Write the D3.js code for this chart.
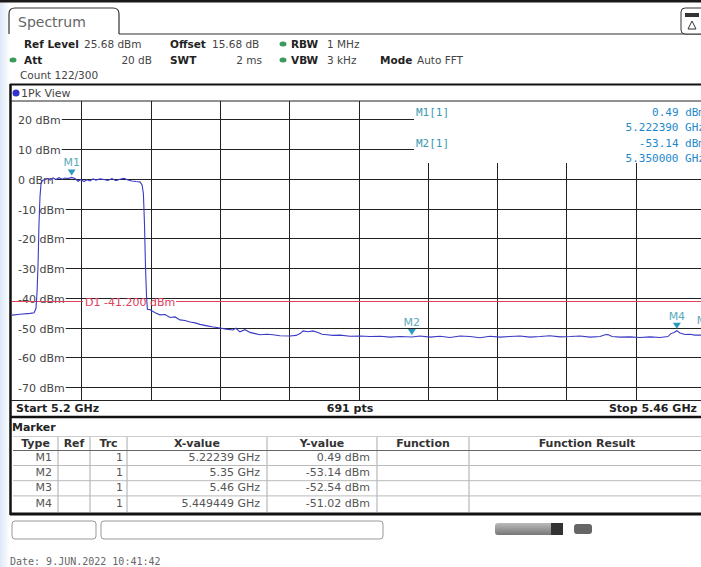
<!DOCTYPE html>
<html><head><meta charset="utf-8">
<script src="https://cdn.jsdelivr.net/npm/d3@7"></script>
<style>
html,body{margin:0;padding:0;background:#fff;}
svg{display:block;font-family:"DejaVu Sans",Verdana,sans-serif;}
</style></head>
<body>
<script>
// ---- data ----
const startGHz = 5.2, stopGHz = 5.46;
const refLevel = 25.68, bottomLevel = -74.32;
const yTicks = [20, 10, 0, -10, -20, -30, -40, -50, -60, -70];
const yTickLabels = ["20 dBm","10 dBm","0 dBm","-10 dBm","-20 dBm","-30 dBm","-40 dBm","-50 dBm","-60 dBm","-70 dBm"];
const xDivisions = 10;
const displayLine = -41.2;

const traceFreq = [5.2000,5.2030,5.2068,5.2083,5.2090,5.2094,5.2098,5.2101,5.2105,5.2109,5.2113,5.2124,5.2135,5.2143,5.2154,5.2165,5.2176,5.2188,5.2199,5.2210,5.22239,5.2236,5.2248,5.2259,5.2270,5.2281,5.2293,5.2304,5.2315,5.2330,5.2345,5.2360,5.2375,5.2390,5.2405,5.2420,5.2435,5.2450,5.2465,5.2480,5.2488,5.2493,5.2497,5.2501,5.2505,5.2508,5.2518,5.2537,5.2555,5.2574,5.2593,5.2612,5.2630,5.2649,5.2668,5.2687,5.2705,5.2732,5.2750,5.2780,5.2803,5.2829,5.2840,5.2855,5.2874,5.2893,5.2912,5.2930,5.2957,5.2979,5.3005,5.3043,5.3066,5.3081,5.3092,5.3111,5.3129,5.3148,5.3163,5.3182,5.3204,5.3231,5.3268,5.3306,5.3343,5.3381,5.3418,5.3456,5.3500,5.3531,5.3568,5.3606,5.3643,5.3681,5.3718,5.3756,5.3793,5.3831,5.3868,5.3906,5.3943,5.3981,5.4018,5.4056,5.4094,5.4131,5.4169,5.4206,5.4225,5.4236,5.4251,5.4281,5.4319,5.4356,5.4394,5.4431,5.4461,5.4472,5.4484,5.449449,5.4506,5.4525,5.4544,5.4562,5.4581,5.4600];
const traceLevel = [-45.8,-45.5,-45.2,-45.0,-43.5,-38,-28,-16,-6,-1.5,-0.5,-0.3,0.2,-0.4,0.3,-0.2,0.4,-0.1,0.3,0.1,0.49,0.1,-0.8,-0.2,-0.9,-0.3,-0.7,0.0,-0.4,0.0,-0.2,-0.5,0.1,-0.6,-0.1,0.2,-0.4,-0.7,-0.9,-1.0,-2.0,-5,-15,-30,-40,-43.8,-44.0,-45.0,-45.7,-45.6,-46.6,-46.4,-47.4,-47.6,-48.1,-48.4,-48.9,-49.4,-49.7,-50.1,-50.5,-50.8,-50.2,-51.4,-50.7,-51.6,-52.0,-52.4,-52.2,-52.4,-52.7,-52.8,-52.6,-52.0,-51.1,-51.4,-51.1,-51.6,-52.2,-52.4,-52.6,-52.5,-52.9,-52.8,-53.0,-52.9,-53.2,-53.0,-53.14,-52.8,-53.2,-52.9,-53.3,-52.8,-53.0,-53.4,-52.9,-53.2,-53.0,-52.8,-53.2,-53.0,-52.7,-53.1,-53.0,-52.8,-53.2,-53.0,-52.4,-52.3,-53.0,-53.2,-53.1,-53.3,-53.1,-53.3,-53.0,-52.0,-51.6,-51.02,-51.8,-52.3,-52.2,-52.5,-52.5,-52.54];

const markerNames = ["M1","M2","M3","M4"];
const markerFreq = [5.22239, 5.35, 5.46, 5.449449];
const markerLevel = [0.49, -53.14, -52.54, -51.02];
const markerXText = ["5.22239 GHz","5.35 GHz","5.46 GHz","5.449449 GHz"];
const markerYText = ["0.49 dBm","-53.14 dBm","-52.54 dBm","-51.02 dBm"];
const infoMarkers = ["M1[1]","M2[1]"];
const infoLevel = ["0.49 dBm","-53.14 dBm"];
const infoFreq = ["5.222390 GHz","5.350000 GHz"];

const W = 701, H = 567;
const svg = d3.select("body").append("svg").attr("width", W).attr("height", H);

// left bluish tint
const defs = svg.append("defs");
const lg = defs.append("linearGradient").attr("id","lt").attr("x1",0).attr("x2",1);
lg.append("stop").attr("offset",0).attr("stop-color","#dde8f6");
lg.append("stop").attr("offset",1).attr("stop-color","#ffffff");
svg.append("rect").attr("x",0).attr("y",0).attr("width",10).attr("height",H).attr("fill","url(#lt)");
svg.append("rect").attr("x",0).attr("y",0).attr("width",W).attr("height",2.5).attr("fill","#1a1a1a");

// Tab
svg.append("path").attr("d","M9,34 L9,14 Q9,8 15,8 L113,8 Q119,8 119,14 L119,34")
  .attr("fill","#fff").attr("stroke","#333").attr("stroke-width",1.2);
svg.append("line").attr("x1",119).attr("x2",W).attr("y1",34).attr("y2",34).attr("stroke","#333").attr("stroke-width",1.2);
svg.append("text").attr("x",18).attr("y",27).attr("font-size",14).attr("fill","#666").text("Spectrum");
// icon top right
svg.append("rect").attr("x",681).attr("y",8).attr("width",26).attr("height",26).attr("rx",4)
  .attr("fill","#fff").attr("stroke","#333");
svg.append("rect").attr("x",685).attr("y",13).attr("width",14).attr("height",4).attr("fill","#333");
svg.append("path").attr("d","M688,29 L692,21 L696,29 Z").attr("fill","none").attr("stroke","#333");

// header text
const hdr = svg.append("g").attr("font-size",10.5).attr("fill","#444");
function t(x,y,s,opt={}){
  const e = hdr.append("text").attr("x",x).attr("y",y).text(s);
  if(opt.bold) e.attr("font-weight","bold").attr("fill","#222");
  if(opt.anchor) e.attr("text-anchor",opt.anchor);
  return e;
}
t(24,48,"Ref Level",{bold:true}); t(84,48,"25.68 dBm");
t(170,48,"Offset",{bold:true}); t(212,48,"15.68 dB");
t(291,48,"RBW",{bold:true}); t(327,48,"1 MHz");
t(24,64,"Att",{bold:true}); t(152,64,"20 dB",{anchor:"end"});
t(170,64,"SWT",{bold:true}); t(262,64,"2 ms",{anchor:"end"});
t(291,64,"VBW",{bold:true}); t(327,64,"3 kHz");
t(380,64,"Mode",{bold:true}); t(417,64,"Auto FFT");
t(20,79,"Count 122/300");
[[283,44],[283,60],[13,60]].forEach(p=>svg.append("ellipse").attr("cx",p[0]).attr("cy",p[1]).attr("rx",3.5).attr("ry",2.5).attr("fill","#3a9a5a"));

// Panel
svg.append("line").attr("x1",10).attr("x2",W).attr("y1",84.5).attr("y2",84.5).attr("stroke","#111").attr("stroke-width",2);
svg.append("line").attr("x1",10.5).attr("x2",10.5).attr("y1",84).attr("y2",417).attr("stroke","#111").attr("stroke-width",2.5);
svg.append("circle").attr("cx",16).attr("cy",93).attr("r",3.5).attr("fill","#3333cc");
svg.append("text").attr("x",21).attr("y",97).attr("font-size",11).attr("fill","#444").text("1Pk View");
svg.append("line").attr("x1",11).attr("x2",W).attr("y1",101).attr("y2",101).attr("stroke","#222").attr("stroke-width",1);

const x = d3.scaleLinear().domain([startGHz, stopGHz]).range([12, 705]);
const y = d3.scaleLinear().domain([bottomLevel, refLevel]).range([400, 102.5]);

const infoLeft = 414, infoBottom = 163;
const grid = svg.append("g").attr("stroke","#222").attr("stroke-width",1);
// vertical grid
const xTickVals = d3.range(1, xDivisions).map(i => startGHz + i*(stopGHz-startGHz)/xDivisions);
xTickVals.forEach(f=>{
  const px = Math.round(x(f))+0.5;
  grid.append("line").attr("x1",px).attr("x2",px).attr("y1", px > infoLeft ? infoBottom : 101).attr("y2",400);
});
// horizontal grid + labels
const lab = svg.append("g").attr("font-size",11).attr("fill","#444");
yTicks.forEach((v,i)=>{
  const py = Math.round(y(v))+0.5;
  const tx = lab.append("text").attr("x",18).attr("y",py+4).text(yTickLabels[i]);
  const end = 18 + tx.node().getComputedTextLength() + 1;
  grid.append("line").attr("x1",end).attr("x2", v >= 10 ? infoLeft : 705).attr("y1",py).attr("y2",py);
});

// display line D1
const dY = Math.round(y(displayLine))+0.5;
svg.append("line").attr("x1",12).attr("x2",83).attr("y1",dY).attr("y2",dY).attr("stroke","#e0405a").attr("stroke-width",1.2);
const dt = svg.append("text").attr("x",85).attr("y",dY+4).attr("font-size",11).attr("fill","#e0405a").text("D1  -41.200 dBm");
svg.append("line").attr("x1",85+dt.node().getComputedTextLength()+1).attr("x2",705).attr("y1",dY).attr("y2",dY).attr("stroke","#e0405a").attr("stroke-width",1.2);

// trace
defs.append("clipPath").attr("id","pc").append("rect").attr("x",12).attr("y",101).attr("width",693).attr("height",299);
const pts = traceFreq.map((f,i)=>[f, traceLevel[i]]);
svg.append("path").attr("clip-path","url(#pc)")
  .attr("d", d3.line().x(d=>x(d[0])).y(d=>y(d[1]))(pts))
  .attr("fill","none").attr("stroke","#3a3ac4").attr("stroke-width",1.1);

// markers
const mcol = "#2b9cc0";
markerNames.forEach((m,i)=>{
  const mx = x(markerFreq[i]), my = y(markerLevel[i]);
  svg.append("path").attr("d",`M${mx-4},${my-8} L${mx+4},${my-8} L${mx},${my-2} Z`).attr("fill",mcol);
  svg.append("text").attr("x",mx).attr("y",my-11).attr("text-anchor","middle").attr("font-size",11).attr("fill","#5aaabb").text(m);
});

// marker info
const info = svg.append("g").attr("font-size",11).attr("font-family","DejaVu Sans Mono, monospace");
infoMarkers.forEach((m,i)=>{
  const yy = 116 + i*31;
  info.append("text").attr("x",416).attr("y",yy).attr("fill","#3a9ab0").text(m);
  info.append("text").attr("x",705).attr("y",yy).attr("text-anchor","end").attr("fill","#1e88cc").text(infoLevel[i]);
  info.append("text").attr("x",705).attr("y",yy+14.5).attr("text-anchor","end").attr("fill","#1e88cc").text(infoFreq[i]);
});

// bottom row
svg.append("line").attr("x1",11).attr("x2",W).attr("y1",400.5).attr("y2",400.5).attr("stroke","#222");
const br = svg.append("g").attr("font-size",11).attr("font-weight","bold").attr("fill","#222");
br.append("text").attr("x",16).attr("y",412).text("Start 5.2 GHz");
br.append("text").attr("x",350).attr("y",412).attr("text-anchor","middle").text("691 pts");
br.append("text").attr("x",697).attr("y",412).attr("text-anchor","end").text("Stop 5.46 GHz");
svg.append("line").attr("x1",10).attr("x2",W).attr("y1",417).attr("y2",417).attr("stroke","#111").attr("stroke-width",2.5);

// marker table
svg.append("line").attr("x1",10.5).attr("x2",10.5).attr("y1",417).attr("y2",515).attr("stroke","#111").attr("stroke-width",2.5);
svg.append("text").attr("x",12).attr("y",431).attr("font-size",11).attr("font-weight","bold").attr("fill","#222").text("Marker");
const cols = [13, 58, 90, 127, 267, 377, 469, 705];
const heads = ["Type","Ref","Trc","X-value","Y-value","Function","Function Result"];
const tb = svg.append("g").attr("font-size",11);
heads.forEach((h,i)=>{
  tb.append("text").attr("x",(cols[i]+cols[i+1])/2).attr("y",447).attr("text-anchor","middle")
    .attr("font-weight","bold").attr("fill","#333").text(h);
});
cols.slice(1,-1).forEach(c=>tb.append("line").attr("x1",c).attr("x2",c).attr("y1",436).attr("y2",512).attr("stroke","#aaa"));
tb.append("line").attr("x1",13).attr("x2",W).attr("y1",450.5).attr("y2",450.5).attr("stroke","#666");
tb.append("line").attr("x1",13).attr("x2",W).attr("y1",436.5).attr("y2",436.5).attr("stroke","#ccc");
markerNames.forEach((m,i)=>{
  const yy = 461 + i*15.2;
  tb.append("text").attr("x",52).attr("y",yy).attr("text-anchor","end").attr("fill","#555").text(m);
  tb.append("text").attr("x",123).attr("y",yy).attr("text-anchor","end").attr("fill","#555").text("1");
  tb.append("text").attr("x",260).attr("y",yy).attr("text-anchor","end").attr("fill","#555").text(markerXText[i]);
  tb.append("text").attr("x",370).attr("y",yy).attr("text-anchor","end").attr("fill","#555").text(markerYText[i]);
  if(i<3) tb.append("line").attr("x1",13).attr("x2",W).attr("y1",yy+4.5).attr("y2",yy+4.5).attr("stroke","#bbb");
});
svg.append("line").attr("x1",10).attr("x2",W).attr("y1",514).attr("y2",514).attr("stroke","#111").attr("stroke-width",3);

// status boxes
svg.append("rect").attr("x",12).attr("y",521).attr("width",84).attr("height",18).attr("rx",3).attr("fill","#fff").attr("stroke","#999");
svg.append("rect").attr("x",101).attr("y",521).attr("width",282).attr("height",18).attr("rx",3).attr("fill","#fff").attr("stroke","#999");
const pg = defs.append("linearGradient").attr("id","pg").attr("x1",0).attr("x2",0).attr("y1",0).attr("y2",1);
pg.append("stop").attr("offset",0).attr("stop-color","#bbb");
pg.append("stop").attr("offset",1).attr("stop-color","#777");
svg.append("rect").attr("x",495).attr("y",523).attr("width",68).attr("height",12).attr("rx",3).attr("fill","url(#pg)");
svg.append("rect").attr("x",551).attr("y",523).attr("width",12).attr("height",12).attr("fill","#333");
svg.append("rect").attr("x",574).attr("y",524).attr("width",18).attr("height",10).attr("rx",3).attr("fill","#666");

svg.append("text").attr("x",10).attr("y",565).attr("font-size",10).attr("font-family","DejaVu Sans Mono, monospace")
  .attr("fill","#666").text("Date: 9.JUN.2022  10:41:42");
</script>
</body></html>
